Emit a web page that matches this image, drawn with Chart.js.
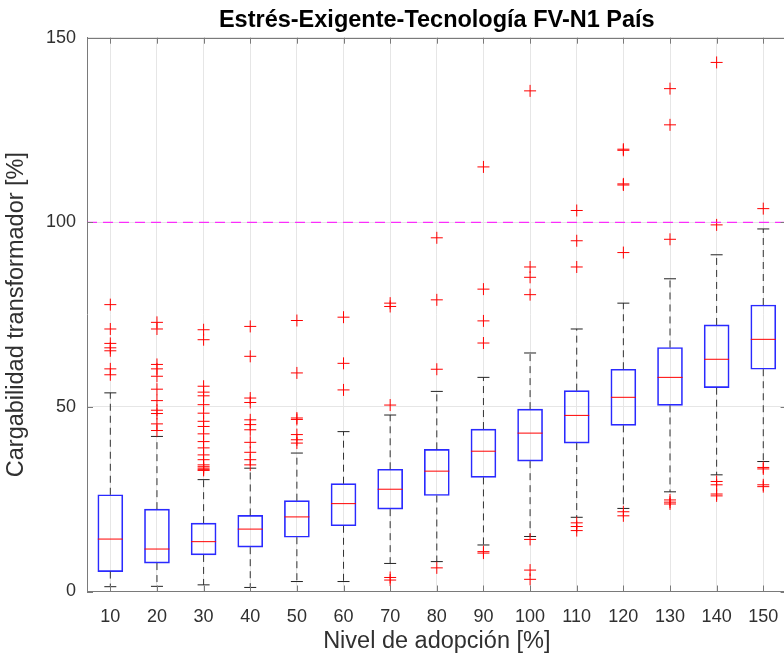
<!DOCTYPE html>
<html><head><meta charset="utf-8">
<script src="https://cdn.jsdelivr.net/npm/chart.js@4"></script>
<style>html,body{margin:0;padding:0;overflow:hidden;background:#fff}#wrap{position:relative;width:792px;height:662px}canvas{display:block}</style>
</head><body>
<div id="wrap"><canvas id="c"></canvas></div>
<script>
const categories = [10,20,30,40,50,60,70,80,90,100,110,120,130,140,150];
const whiskerLow  = [1.3, 1.4, 1.8, 1.1, 2.7, 2.7, 7.6, 8.1, 12.6, 14.9, 20.1, 22.5, 27.0, 31.6, 35.2];
const q1          = [5.4, 7.7, 9.9, 12.0, 14.7, 17.8, 22.3, 26.0, 30.9, 35.3, 40.2, 45.0, 50.4, 55.2, 60.2];
const median      = [14.2, 11.5, 13.5, 16.9, 20.2, 23.8, 27.7, 32.6, 38.0, 42.9, 47.7, 52.6, 58.0, 62.9, 68.3];
const q3          = [26.2, 22.3, 18.5, 20.6, 24.6, 29.2, 33.1, 38.5, 44.0, 49.4, 54.4, 60.2, 66.1, 72.2, 77.6];
const whiskerHigh = [53.8, 42.0, 30.3, 33.4, 37.5, 43.3, 47.8, 54.2, 58.0, 64.6, 71.1, 78.1, 84.7, 91.2, 98.2];
const outliers = [
  [77.7, 71.1, 67.2, 66.0, 65.2, 60.3, 58.7],
  [72.9, 71.1, 61.5, 60.3, 58.3, 54.8, 51.7, 49.1, 48.2, 45.4, 43.6],
  [70.9, 68.2, 55.6, 54.0, 53.0, 50.6, 48.3, 46.1, 44.7, 42.7, 40.6, 38.9, 37.0, 35.7, 34.3, 33.8, 33.4, 33.0, 32.8],
  [71.8, 63.7, 52.4, 51.2, 46.5, 45.2, 43.8, 40.4, 37.7, 35.7, 34.3],
  [73.4, 59.2, 47.0, 46.6, 42.5, 41.1, 40.2],
  [74.3, 61.8, 54.6],
  [78.1, 77.2, 50.5, 3.8, 3.1],
  [95.8, 79.0, 60.2, 6.4],
  [115.0, 81.9, 73.3, 67.3, 10.8, 10.4],
  [135.6, 87.9, 85.1, 80.4, 14.1, 5.8, 3.3],
  [103.2, 95.0, 87.9, 18.6, 17.6, 16.5],
  [119.8, 119.5, 110.4, 110.1, 91.8, 21.6, 20.5],
  [136.2, 126.4, 95.4, 24.8, 24.2, 23.7],
  [143.3, 99.3, 29.8, 28.9, 26.4, 25.9],
  [103.7, 33.6, 33.2, 28.9, 28.4]
];
const referenceLevel = 100;
const yTicks = [0, 50, 100, 150];
const xRange = [5, 155];
const titleText = 'Estrés-Exigente-Tecnología FV-N1 País';
const xLabel = 'Nivel de adopción [%]';
const yLabel = 'Cargabilidad transformador [%]';

const FONT = "'Liberation Sans', Arial, Helvetica, sans-serif";
const axisColor = '#7a7a7a';
const textColor = '#303030';
const gridColor = '#e6e6e6';
Chart.defaults.font.family = FONT;

const boxData = categories.map((c, i) => ({x: c, y: [q1[i], q3[i]]}));
const medianData = categories.map((c, i) => ({x: c, y: median[i]}));
const whiskerData = [];
categories.forEach((c, i) => {
  whiskerData.push({x: c, y: q3[i]}, {x: c, y: whiskerHigh[i]}, {x: c, y: null});
  whiskerData.push({x: c, y: q1[i]}, {x: c, y: whiskerLow[i]}, {x: c, y: null});
});
const capData = [];
categories.forEach((c, i) => { capData.push({x: c, y: whiskerLow[i]}, {x: c, y: whiskerHigh[i]}); });
const outlierData = [];
categories.forEach((c, i) => outliers[i].forEach(v => outlierData.push({x: c, y: v})));
const refData = [{x: xRange[0], y: referenceLevel}, {x: xRange[1], y: referenceLevel}];

const boxPlugin = {
  id: 'matlabBox',
  afterDatasetsDraw(chart) {
    const {ctx, chartArea: a, scales: {x, y}} = chart;
    ctx.save();
    ctx.strokeStyle = axisColor;
    ctx.lineWidth = 1;
    ctx.beginPath();
    const top = Math.round(a.top) + 0.5;
    const right = Math.round(a.right) - 0.5;
    ctx.moveTo(a.left, top); ctx.lineTo(a.right, top);
    ctx.moveTo(right, a.top); ctx.lineTo(right, a.bottom);
    const tl = 6;
    x.ticks.forEach(t => {
      const px = Math.round(x.getPixelForValue(t.value)) + 0.5;
      ctx.moveTo(px, a.bottom); ctx.lineTo(px, a.bottom - tl);
      ctx.moveTo(px, a.top); ctx.lineTo(px, a.top + tl);
    });
    y.ticks.forEach(t => {
      const py = Math.round(y.getPixelForValue(t.value)) + 0.5;
      ctx.moveTo(a.left, py); ctx.lineTo(a.left + tl, py);
      ctx.moveTo(a.right, py); ctx.lineTo(a.right - tl, py);
    });
    ctx.stroke();
    ctx.restore();
  }
};

new Chart(document.getElementById('c'), {
  type: 'bar',
  data: {
    datasets: [
      {type: 'line', data: refData, borderColor: '#ff00ff', borderWidth: 1, borderDash: [10, 6],
       pointRadius: 0, order: 0},
      {type: 'scatter', data: outlierData, pointStyle: 'cross', pointRadius: 6, pointHoverRadius: 6,
       borderColor: '#ff0000', pointBorderColor: '#ff0000', pointBorderWidth: 1, borderWidth: 1, order: 1},
      {type: 'scatter', data: medianData, pointStyle: 'line', pointRadius: 12.5, pointHoverRadius: 12.5,
       borderColor: '#ff0000', pointBorderColor: '#ff0000', pointBorderWidth: 1, borderWidth: 1, order: 2},
      {type: 'scatter', data: capData, pointStyle: 'line', pointRadius: 6, pointHoverRadius: 6,
       borderColor: '#222222', pointBorderColor: '#222222', pointBorderWidth: 1, borderWidth: 1, order: 3},
      {type: 'line', data: whiskerData, borderColor: '#333333', borderWidth: 1, borderDash: [7, 5],
       pointRadius: 0, spanGaps: false, order: 4},
      {type: 'bar', data: boxData, backgroundColor: 'rgba(0,0,0,0)', borderColor: '#2a2aff',
       borderWidth: 1, borderSkipped: false, barThickness: 25, order: 5}
    ]
  },
  options: {
    responsive: true,
    maintainAspectRatio: false,
    devicePixelRatio: 1,
    animation: false,
    events: [],
    layout: {autoPadding: false, padding: {left: 0, right: 5.4, top: 0, bottom: 0}},
    plugins: {
      legend: {display: false},
      tooltip: {enabled: false},
      title: {display: true, text: titleText, fullSize: false, color: '#000',
              font: {size: 23.5, weight: 'bold', family: FONT}, padding: {top: 6, bottom: 3.5}}
    },
    scales: {
      x: {
        type: 'linear', min: xRange[0], max: xRange[1], offset: false,
        afterBuildTicks: s => { s.ticks = categories.map(v => ({value: v})); },
        afterFit: s => { s.height = 70.5; s.paddingLeft = 0; s.paddingRight = 0; },
        ticks: {color: textColor, font: {size: 18}, padding: 15, maxRotation: 0, autoSkip: false},
        grid: {color: gridColor, drawTicks: false, offset: false},
        border: {color: axisColor, width: 1},
        title: {display: true, text: xLabel, color: textColor, font: {size: 23.5}, padding: {top: 0, bottom: 6}}
      },
      y: {
        type: 'linear', min: 0, max: 150,
        afterBuildTicks: s => { s.ticks = yTicks.map(v => ({value: v})); },
        afterFit: s => { s.width = 87; s.paddingTop = 0; s.paddingBottom = 0; },
        ticks: {color: textColor, font: {size: 18}, padding: 11},
        grid: {color: gridColor, drawTicks: false},
        border: {color: axisColor, width: 1},
        title: {display: true, text: yLabel, color: textColor, font: {size: 23.5}, padding: {top: 2, bottom: 0}}
      }
    }
  },
  plugins: [boxPlugin]
});
</script>
</body></html>
